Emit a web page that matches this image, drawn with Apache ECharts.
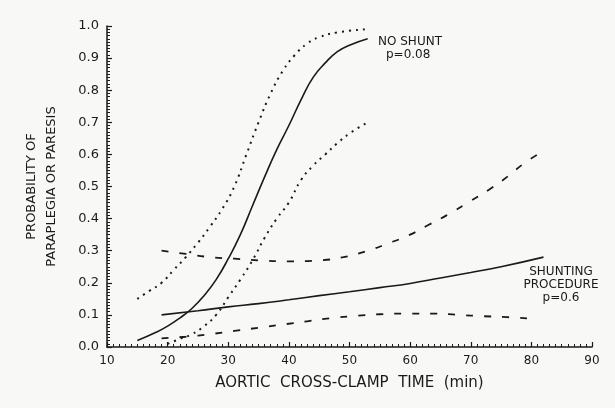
<!DOCTYPE html>
<html>
<head>
<meta charset="utf-8">
<script src="https://cdn.jsdelivr.net/npm/echarts@6/dist/echarts.min.js"></script>
<style>
  html, body { margin: 0; padding: 0; background: #f8f8f7; }
  #chart { width: 615px; height: 408px; }
</style>
</head>
<body>
<div id="chart"></div>
<script>
  // x values (min) and probabilities
  var noShuntX = [15, 18, 20, 22, 24, 26, 28, 30, 32, 34, 36, 38, 40, 42, 44, 46, 48, 50, 53];
  var noShuntY = [0.02, 0.045, 0.065, 0.09, 0.12, 0.16, 0.21, 0.275, 0.35, 0.44, 0.53, 0.615, 0.69, 0.77, 0.84, 0.885, 0.92, 0.94, 0.96];

  var noShuntUpX = [15, 17, 19, 21, 23, 25, 27, 29, 31, 33, 35, 37, 39, 41, 43, 45, 48, 53];
  var noShuntUpY = [0.15, 0.175, 0.20, 0.24, 0.28, 0.325, 0.375, 0.43, 0.50, 0.60, 0.70, 0.79, 0.86, 0.91, 0.945, 0.965, 0.98, 0.99];

  var noShuntLoX = [20, 22, 24, 26, 28, 30, 32, 34, 36, 38, 40, 42, 44, 46, 48, 50, 53];
  var noShuntLoY = [0.01, 0.025, 0.04, 0.065, 0.10, 0.155, 0.21, 0.27, 0.34, 0.40, 0.45, 0.52, 0.565, 0.60, 0.635, 0.665, 0.70];

  var shuntX = [19, 25, 30, 35, 40, 45, 50, 55, 60, 65, 70, 75, 82];
  var shuntY = [0.10, 0.113, 0.125, 0.135, 0.147, 0.16, 0.172, 0.185, 0.198, 0.215, 0.232, 0.25, 0.28];

  var shuntUpX = [19, 23, 27, 31, 35, 40, 45, 49, 53, 56, 60, 63, 66, 70, 73, 76, 79, 82];
  var shuntUpY = [0.30, 0.29, 0.28, 0.275, 0.27, 0.267, 0.27, 0.28, 0.30, 0.32, 0.35, 0.38, 0.41, 0.455, 0.49, 0.53, 0.575, 0.61];

  var shuntLoX = [19, 23, 27, 31, 35, 39, 43, 47, 51, 55, 60, 64, 68, 72, 76, 80];
  var shuntLoY = [0.027, 0.032, 0.04, 0.05, 0.06, 0.07, 0.08, 0.09, 0.097, 0.102, 0.104, 0.104, 0.1, 0.096, 0.093, 0.088];

  var xTicks = [10, 90, 10];   // min, max, interval
  var yTicks = [0, 1, 0.1];

  function pairs(xs, ys) {
    return xs.map(function (x, i) { return [x, ys[i]]; });
  }

  var ink = '#1a1a1a';
  var font = 'DejaVu Sans';

  function line(data, type, width) {
    return {
      type: 'line',
      data: data,
      smooth: true,
      symbol: 'none',
      silent: true,
      lineStyle: { color: ink, width: width, type: type }
    };
  }

  var chart = echarts.init(document.getElementById('chart'));

  chart.setOption({
    backgroundColor: '#f8f8f7',
    animation: false,
    grid: { left: 107, right: 23, top: 26, bottom: 61 },
    xAxis: {
      type: 'value',
      min: xTicks[0], max: xTicks[1], interval: xTicks[2],
      name: 'AORTIC  CROSS-CLAMP  TIME  (min)',
      nameLocation: 'middle',
      nameGap: 29,
      nameTextStyle: { color: ink, fontFamily: font, fontSize: 15 },
      axisLine: { lineStyle: { color: ink, width: 1.5 } },
      axisTick: { inside: true, length: 5, lineStyle: { color: ink, width: 1.2 } },
      minorTick: { show: true, splitNumber: 10, length: 3, lineStyle: { color: ink, width: 1 } },
      axisLabel: { color: ink, fontFamily: font, fontSize: 12, margin: 8 },
      splitLine: { show: false }
    },
    yAxis: {
      type: 'value',
      min: yTicks[0], max: yTicks[1], interval: yTicks[2],
      name: 'PROBABILITY OF\nPARAPLEGIA OR PARESIS',
      nameLocation: 'middle',
      nameGap: 45,
      nameRotate: 90,
      nameTextStyle: { color: ink, fontFamily: font, fontSize: 13, lineHeight: 20 },
      axisLine: { lineStyle: { color: ink, width: 1.5 } },
      axisTick: { inside: true, length: 5, lineStyle: { color: ink, width: 1.2 } },
      minorTick: { show: true, splitNumber: 10, length: 3, lineStyle: { color: ink, width: 1 } },
      axisLabel: {
        color: ink, fontFamily: font, fontSize: 13, margin: 8,
        formatter: function (v) { return v.toFixed(1); }
      },
      splitLine: { show: false }
    },
    series: [
      line(pairs(noShuntX, noShuntY), 'solid', 1.6),
      line(pairs(noShuntUpX, noShuntUpY), [2, 5], 2),
      line(pairs(noShuntLoX, noShuntLoY), [2, 5], 2),
      line(pairs(shuntX, shuntY), 'solid', 1.6),
      line(pairs(shuntUpX, shuntUpY), [7, 11], 1.8),
      line(pairs(shuntLoX, shuntLoY), [7, 11], 1.8)
    ],
    graphic: [
      {
        type: 'text', x: 378, y: 36,
        style: { text: 'NO SHUNT', fill: ink, font: '12px "DejaVu Sans"' }
      },
      {
        type: 'text', x: 386, y: 49,
        style: { text: 'p=0.08', fill: ink, font: '12px "DejaVu Sans"' }
      },
      {
        type: 'text', x: 561, y: 265,
        style: {
          text: 'SHUNTING\nPROCEDURE\np=0.6', fill: ink, align: 'center',
          font: '12px "DejaVu Sans"', lineHeight: 13
        }
      }
    ]
  });
</script>
</body>
</html>
